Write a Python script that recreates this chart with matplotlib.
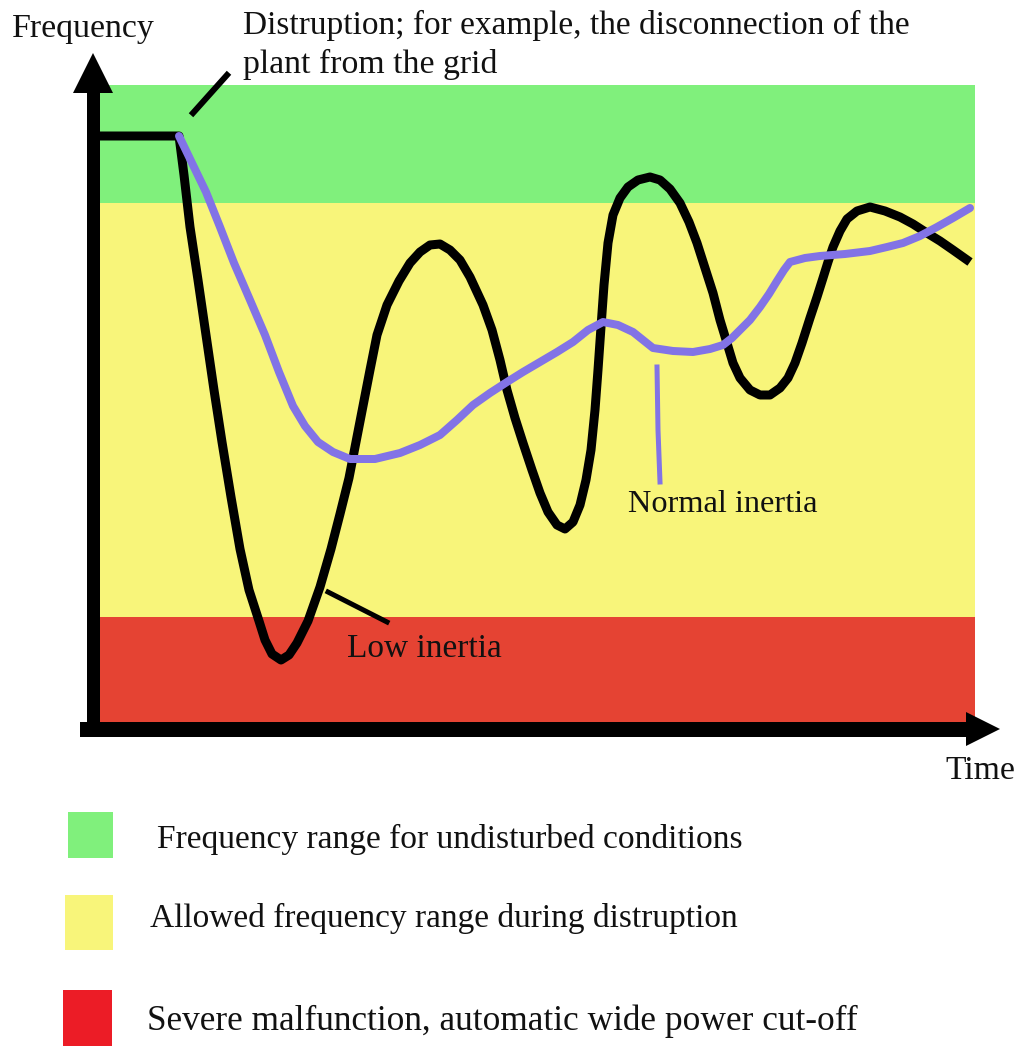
import matplotlib
matplotlib.use("Agg")
import matplotlib.pyplot as plt
from matplotlib.patches import Rectangle

W, H = 1021, 1046
DPI = 100

# ---- data (in picture units: x = time, y = frequency, y grows downward) ----
# Low-inertia response (black)
low_t = [100, 179, 184, 190, 198, 206, 214, 222, 231, 240, 249, 259, 265, 272, 281, 289, 297, 308,
         320, 331, 340, 349, 356, 363, 370, 377, 387, 399, 410, 420, 430, 440, 450, 460, 470,
         483, 492, 500, 507, 515, 523, 532, 540, 548, 557, 565, 573, 580, 586, 591, 595, 598,
         601, 604, 608, 613, 620, 628, 638, 650, 660, 670, 680, 689, 697, 705, 713, 720, 727,
         733, 740, 750, 760, 770, 780, 788, 795, 802, 810, 817, 823, 828, 833, 840, 847, 857,
         870, 885, 900, 913, 927, 940, 953, 970]
low_f = [136, 136, 175, 227, 280, 335, 390, 442, 497, 549, 590, 621, 640, 654, 660, 655, 643, 621,
         587, 549, 514, 478, 442, 406, 370, 335, 305, 281, 263, 252, 245, 244, 250, 260, 277,
         305, 330, 360, 390, 418, 443, 470, 493, 512, 525, 529, 522, 505, 480, 450, 410, 370,
         327, 285, 243, 215, 198, 187, 180, 177, 180, 189, 203, 222, 243, 268, 293, 320, 343,
         363, 378, 390, 395, 395, 388, 378, 363, 343, 318, 297, 278, 262, 247, 231, 219, 211,
         207, 211, 217, 224, 233, 241, 250, 262]

# Normal-inertia response (purple)
norm_t = [179, 192, 206, 220, 234, 250, 265, 279, 293, 305, 318, 333, 350, 375, 400, 420, 440,
          457, 473, 490, 507, 523, 540, 557, 573, 588, 603, 618, 633, 643, 653, 673, 693, 710,
          723, 732, 740, 750, 760, 769, 777, 784, 790, 805, 820, 845, 870, 887, 903, 920, 937,
          953, 970]
norm_f = [136, 163, 192, 227, 263, 300, 335, 372, 406, 426, 442, 452, 459, 459, 453, 445, 435,
          420, 405, 393, 382, 372, 362, 352, 342, 330, 322, 325, 332, 340, 348, 351, 352, 349,
          345, 338, 330, 320, 307, 294, 281, 270, 262, 258, 256, 254, 251, 247, 243, 236, 227,
          218, 208]

# Frequency bands (top, bottom) and time extent
band_t = [100, 975]
green_band = (85, 203)
yellow_band = (203, 617)
red_band = (617, 722)

# Annotation leader lines
disrupt_leader_t = [193, 227]
disrupt_leader_f = [113, 75]
low_leader_t = [328, 387]
low_leader_f = [592, 622]
norm_leader_t = [657, 658, 660]
norm_leader_f = [367, 430, 482]

# Axes geometry
yaxis_t = [93, 93]
yaxis_f = [729, 80]
xaxis_t = [87, 975]
xaxis_f = [729, 729]

# Texts: (text, left x, right x, baseline y)
texts = [
    ("Frequency", 12, 155, 37),
    ("Distruption; for example, the disconnection of the", 243, 910, 34),
    ("plant from the grid", 243, 497, 73),
    ("Normal inertia", 628, 818, 512),
    ("Low inertia", 347, 502, 657),
    ("Time", 945, 1015, 779),
]
legend_labels = [
    "Frequency range for undisturbed conditions",
    "Allowed frequency range during distruption",
    "Severe malfunction, automatic wide power cut-off",
]
legend_text_pos = [(157, 743, 848), (150, 737, 927), (147, 857, 1030)]
legend_boxes = [(68, 812, 45, 46), (65, 895, 48, 55), (63, 990, 49, 56)]

# ---- colours ----
GREEN = "#80f07c"
YELLOW = "#f8f57a"
RED = "#e54333"
RED_LEG = "#ec1c26"
PURPLE = "#8273e6"

fig = plt.figure(figsize=(W / DPI, H / DPI), dpi=DPI)
ax = fig.add_axes([0, 0, 1, 1])
ax.set_xlim(0, W)
ax.set_ylim(H, 0)
ax.axis("off")

# bands
for (top, bot), col in [(green_band, GREEN), (yellow_band, YELLOW), (red_band, RED)]:
    ax.fill_between(band_t, top, bot, color=col, lw=0, zorder=1)

px = 72.0 / DPI  # points per pixel

# curves
ax.plot(norm_t, norm_f, color=PURPLE, lw=8 * px, solid_joinstyle="round",
        solid_capstyle="round", zorder=4)
ax.plot(low_t, low_f, color="black", lw=9 * px, solid_joinstyle="round",
        solid_capstyle="butt", zorder=3)

# leaders
ax.plot(disrupt_leader_t, disrupt_leader_f, color="black", lw=6 * px, zorder=5)
ax.plot(low_leader_t, low_leader_f, color="black", lw=5 * px, zorder=5)
ax.plot(norm_leader_t, norm_leader_f, color=PURPLE, lw=5 * px, zorder=5)

# axes with arrows
ax.plot(yaxis_t, yaxis_f, color="black", lw=13 * px, solid_capstyle="projecting", zorder=6)
ax.plot(xaxis_t, xaxis_f, color="black", lw=15 * px, solid_capstyle="projecting", zorder=6)
ax.plot([yaxis_t[1]], [73], marker="^", color="black", ms=40 * px, zorder=7, mew=0)
ax.plot([983], [729], marker=">", color="black", ms=34 * px, zorder=7, mew=0)

# legend boxes
for (x, y, w, h), col in zip(legend_boxes, [GREEN, YELLOW, RED_LEG]):
    ax.add_patch(Rectangle((x, y), w, h, color=col, lw=0, zorder=2))

FONT = "Liberation Serif"
fig.canvas.draw()
renderer = fig.canvas.get_renderer()


def fitted_text(s, x0, x1, yb):
    t = ax.text(x0, yb, s, fontfamily=FONT, fontsize=20, ha="left", va="baseline",
                color="#111111", zorder=8)
    bb = t.get_window_extent(renderer=renderer)
    t.set_fontsize(20 * (x1 - x0) / bb.width)
    return t


for s, x0, x1, yb in texts:
    fitted_text(s, x0, x1, yb)
for s, (x0, x1, yb) in zip(legend_labels, legend_text_pos):
    fitted_text(s, x0, x1, yb)

fig.savefig("out.png", dpi=DPI)
